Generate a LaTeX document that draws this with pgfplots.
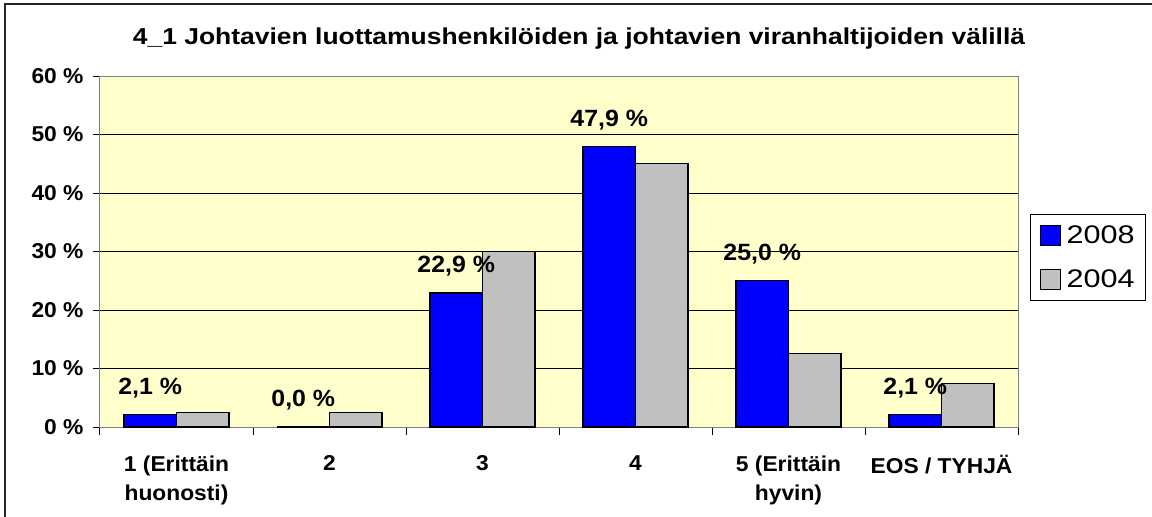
\documentclass[border=0pt]{standalone}
\usepackage{pgfplots}
\pgfplotsset{compat=1.18}
\usepackage{fontspec}
\setmainfont{Liberation Sans}[FakeStretch=1.06]
\newfontfamily\titlefont{Liberation Sans}[FakeStretch=1.15]
\newfontfamily\legfont{Liberation Sans}[FakeStretch=1.2]
\definecolor{bgy}{RGB}{255,255,204}
\definecolor{barblue}{RGB}{0,0,255}
\definecolor{bargray}{RGB}{192,192,192}
\definecolor{axgray}{RGB}{128,128,128}
\begin{document}
\begin{tikzpicture}[x=1pt,y=1pt]
\useasboundingbox (0,0) rectangle (1152,517);
\fill[white] (0,0) rectangle (1152,517);
\draw[black!85, line width=2pt] (4.5,-5) -- (4.5,512.5) -- (1160,512.5);
\node[font=\fontsize{23}{23}\selectfont\titlefont\bfseries] at (579,478.5) {4\_1 Johtavien luottamushenkilöiden ja johtavien viranhaltijoiden välillä};
\begin{axis}[name=ax,
  at={(100pt,90pt)}, anchor=south west,
  scale only axis, width=918pt, height=351pt,
  xmin=-0.5, xmax=5.5, ymin=0, ymax=60,
  axis background/.style={fill=bgy},
  axis line style={draw=axgray, line width=1pt},
  /pgf/number format/assume math mode=true,
  ybar=0pt, bar width=52.5pt,
  ytick={0,10,...,60},
  yticklabels={0 \%,10 \%,20 \%,30 \%,40 \%,50 \%,60 \%},
  ymajorgrids, grid style={black, line width=0.8pt},
  xtick={0,...,5},
  xticklabels={{1 (Erittäin\\huonosti)},2,3,4,{5 (Erittäin\\hyvin)},EOS / TYHJÄ},
  minor xtick={-0.5,0.5,...,5.5},
  major x tick style={draw=none},
  tick pos=left, tick align=outside,
  major tick length=7pt, minor tick length=8pt,
  tick style={black, line width=1pt},
  ticklabel style={font=\fontsize{21.5}{29}\selectfont\bfseries},
  xticklabel style={align=center, yshift=-18pt},
  yticklabel style={xshift=-6pt},
  legend style={at={(1.0131,0.6068)}, anchor=north west, draw=black, line width=1pt, fill=white,
     font=\fontsize{25.5}{25.5}\selectfont\legfont, row sep=21pt, inner xsep=9pt, inner ysep=9pt},
  legend cell align=left,
]
\addplot[fill=barblue, draw=black, line width=1.2pt,
  legend image code/.code={\draw[fill=barblue, draw=black, line width=1pt] (0pt,-10pt) rectangle (20pt,10pt); \path (24pt,0pt);},
  nodes near coords={\pgfmathprintnumber[fixed,fixed zerofill,precision=1,use comma]{\pgfplotspointmeta}~\%},
  every node near coord/.append style={font=\fontsize{23.5}{23.5}\selectfont\bfseries, anchor=center, yshift=27pt, black}]
  coordinates {(0,2.1) (1,0.0) (2,22.9) (3,47.9) (4,25.0) (5,2.1)};
\addlegendentry{2008}
\addplot[fill=bargray, draw=black, line width=1.2pt,
  legend image code/.code={\draw[fill=bargray, draw=black, line width=1pt] (0pt,-10pt) rectangle (20pt,10pt); \path (24pt,0pt);}]
  coordinates {(0,2.5) (1,2.5) (2,30.0) (3,45.0) (4,12.5) (5,7.5)};
\addlegendentry{2004}
\end{axis}
\end{tikzpicture}
\end{document}
